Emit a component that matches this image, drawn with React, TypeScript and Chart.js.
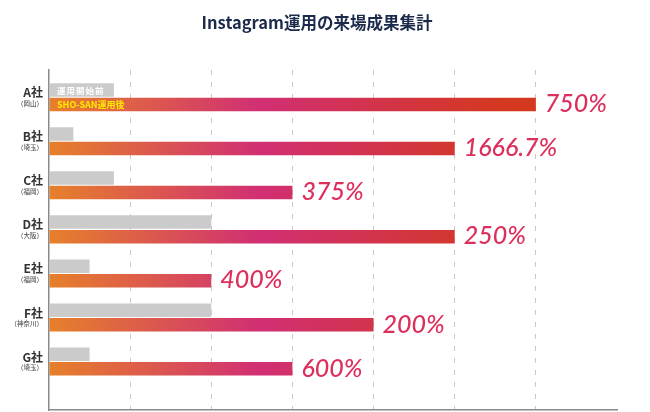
import React, { useEffect, useRef } from 'react';
import { Chart, registerables } from 'chart.js';

Chart.register(...registerables);

const titleText = 'Instagram運用の来場成果集計';
const companies = ['A社', 'B社', 'C社', 'D社', 'E社', 'F社', 'G社'];
const regions = ['（岡山）', '（埼玉）', '（福岡）', '（大阪）', '（福岡）', '（神奈川）', '（埼玉）'];
const seriesNames = ['運用開始前', 'SHO-SAN運用後'];
const beforeValues = [0.8, 0.3, 0.8, 2, 0.5, 2, 0.5];
const afterValues = [6, 5, 3, 5, 2, 4, 3];
const growthLabels = ['750%', '1666.7%', '375%', '250%', '400%', '200%', '600%'];

const JP = '"Noto Sans CJK JP", "Noto Sans", sans-serif';

export default function App() {
  const ref = useRef<HTMLCanvasElement | null>(null);

  useEffect(() => {
    const canvas = ref.current;
    if (!canvas) return;
    let gradCache: any = null;
    let gradKey = '';
    const gradient = (ctx: any) => {
      const chart = ctx.chart;
      const area = chart.chartArea;
      if (!area) return '#e57d25';
      const key = `${area.left}-${area.right}`;
      if (gradCache && gradKey === key) return gradCache;
      const g = chart.ctx.createLinearGradient(area.left, 0, area.right, 0);
      g.addColorStop(0, '#e6802a');
      g.addColorStop(0.37, '#d12f73');
      g.addColorStop(0.8, '#d4381f');
      g.addColorStop(1, '#d4391a');
      gradCache = g;
      gradKey = key;
      return g;
    };

    const labelPlugin = {
      id: 'customLabels',
      afterDatasetsDraw(chart: any) {
        const c = chart.ctx;
        const yScale = chart.scales.y;
        const metaBefore = chart.getDatasetMeta(0);
        const metaAfter = chart.getDatasetMeta(1);
        c.save();
        c.fillStyle = '#1b2a4a';
        c.font = `700 16.5px ${JP}`;
        c.textAlign = 'center';
        c.textBaseline = 'middle';
        c.fillText(titleText, 317, 23);

        companies.forEach((name, i) => {
          const yc = yScale.getPixelForValue(i);
          c.textAlign = 'right';
          c.textBaseline = 'middle';
          c.fillStyle = '#333333';
          c.font = `700 12px ${JP}`;
          c.fillText(name, 43, yc - 4.5);
          c.fillStyle = '#555555';
          c.font = `500 6.5px ${JP}`;
          c.fillText(regions[i], 43, yc + 6);

          const bar = metaAfter.data[i];
          c.textAlign = 'left';
          c.textBaseline = 'alphabetic';
          c.fillStyle = '#dc2f5c';
          c.font = `italic 500 25px Lato, "DejaVu Sans", sans-serif`;
          c.fillText(growthLabels[i], bar.x + 9, bar.y + bar.height / 2 + 1);
        });

        const b0 = metaBefore.data[0];
        const a0 = metaAfter.data[0];
        c.textAlign = 'left';
        c.textBaseline = 'middle';
        c.fillStyle = '#ffffff';
        c.font = `700 8.5px ${JP}`;
        (c as any).letterSpacing = '1px';
        c.fillText(seriesNames[0], 57, b0.y + 0.5);
        (c as any).letterSpacing = '0px';
        c.fillStyle = '#ffe800';
        c.font = `700 9px ${JP}`;
        c.fillText(seriesNames[1], 57, a0.y + 0.5);
        c.restore();
      },
    };

    const chart = new Chart(canvas, {
      type: 'bar',
      data: {
        datasets: [
          {
            label: seriesNames[0],
            data: beforeValues.map((v, i) => ({ x: v, y: i })),
            backgroundColor: '#cbcbcb',
            borderWidth: 0,
            categoryPercentage: 0.66,
            barPercentage: 0.93,
          },
          {
            label: seriesNames[1],
            data: afterValues.map((v, i) => ({ x: v, y: i })),
            backgroundColor: gradient,
            borderWidth: 0,
            categoryPercentage: 0.66,
            barPercentage: 0.93,
          },
        ],
      },
      options: {
        indexAxis: 'y',
        animation: false,
        responsive: false,
        devicePixelRatio: 1,
        layout: { padding: { left: 49, right: 33, top: 70, bottom: 2 } },
        plugins: { legend: { display: false }, tooltip: { enabled: false }, title: { display: false } },
        scales: {
          x: {
            type: 'linear',
            min: 0,
            max: 7,
            bounds: 'data',
            offset: false,
            ticks: { display: false, stepSize: 1 },
            grid: {
              drawTicks: false,
              offset: false,
              color: (ctx: any) => (ctx.tick && (ctx.tick.value === 7 || ctx.tick.value === 0) ? 'rgba(0,0,0,0)' : '#c9c9c9'),
              lineWidth: 1,
            },
            border: { display: true, color: '#8a8a8a', width: 1.5, dash: [5, 7] },
            afterFit: (s: any) => { s.height = 0; },
          },
          y: {
            type: 'linear',
            reverse: true,
            min: -0.618,
            max: 7.1,
            bounds: 'data',
            offset: false,
            ticks: { display: false, stepSize: 1, includeBounds: false },
            grid: { display: false, drawTicks: false, offset: false },
            border: { display: true, color: '#8a8a8a', width: 1.5 },
            afterBuildTicks: (s: any) => {
              s.ticks = s.ticks.filter((t: any) => Number.isInteger(t.value));
            },
            afterFit: (s: any) => { s.width = 0; },
          },
        },
      },
      plugins: [labelPlugin],
    } as any);

    return () => chart.destroy();
  }, []);

  return (
    <div style={{ position: 'fixed', left: 0, top: 0, width: 650, height: 412, background: '#ffffff' }}>
      <canvas ref={ref} width={650} height={412} style={{ width: 650, height: 412, display: 'block' }} />
    </div>
  );
}
